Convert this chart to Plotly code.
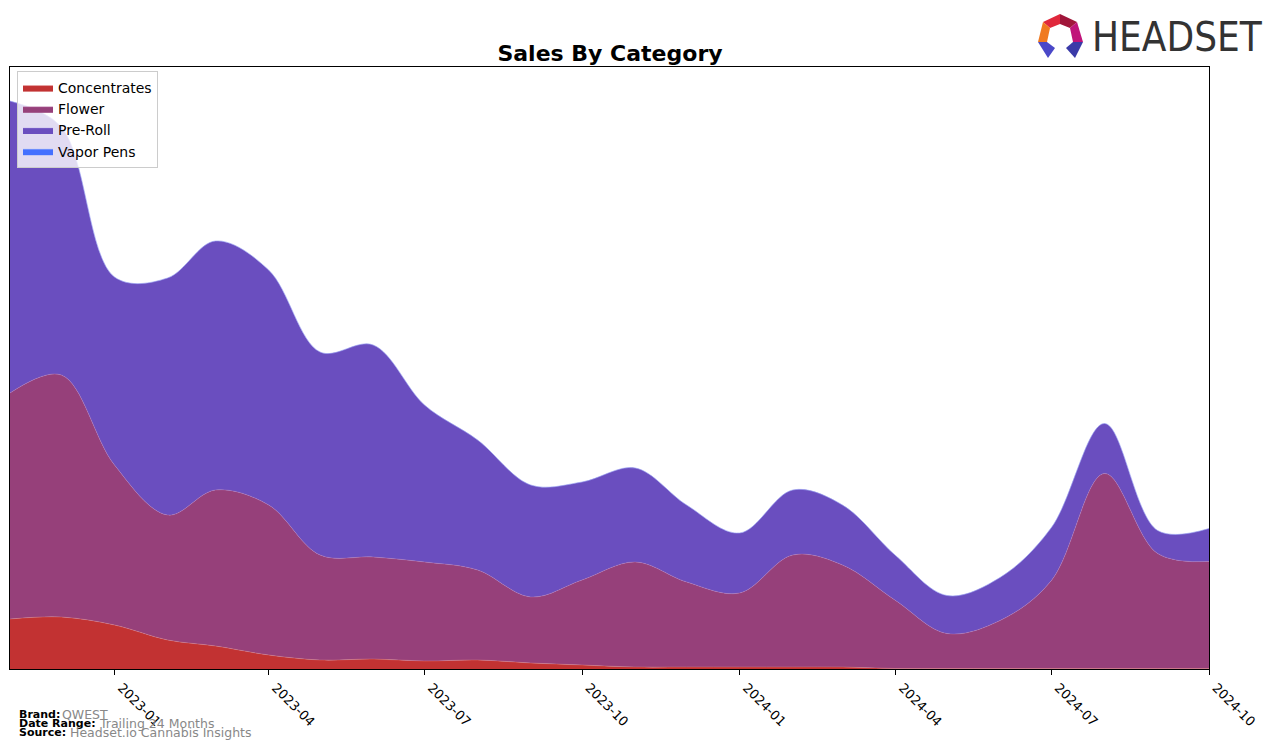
import plotly.graph_objs as go

# monthly sales by category (relative units)
months = ['2022-11-01', '2022-12-01', '2023-01-01', '2023-02-01', '2023-03-01', '2023-04-01',
          '2023-05-01', '2023-06-01', '2023-07-01', '2023-08-01', '2023-09-01', '2023-10-01',
          '2023-11-01', '2023-12-01', '2024-01-01', '2024-02-01', '2024-03-01', '2024-04-01',
          '2024-05-01', '2024-06-01', '2024-07-01', '2024-08-01', '2024-09-01', '2024-10-01']

concentrates = [50, 52, 44, 29, 23, 14, 9, 10, 8, 9, 6, 4,
                2, 2, 2, 2, 2, 0.5, 0.5, 0.5, 0.5, 0.5, 0.5, 0.5]
flower = [226, 242, 160, 125, 156, 150, 105, 102, 99, 90, 66, 85,
          105, 85, 74, 112, 102, 68, 35, 48, 88, 195, 115, 107]
pre_roll = [292, 248, 188, 237, 249, 235, 203, 212, 157, 130, 112, 98,
            94, 77, 60, 65, 60, 45, 38, 43, 53, 50, 23, 33]
vapor_pens = [0] * 24

categories = ['Concentrates', 'Flower', 'Pre-Roll', 'Vapor Pens']
colors = ['#c23232', '#96407a', '#6a4ebf', '#4470ff']
edges = ['rgba(230,140,140,0.6)', 'rgba(200,130,180,0.6)', 'rgba(170,150,230,0.6)', 'rgba(140,170,255,0.6)']
series = [concentrates, flower, pre_roll, vapor_pens]

fig = go.Figure()
for name, vals, col, edge in zip(categories, series, colors, edges):
    fig.add_trace(go.Scatter(x=months, y=vals, name=name, stackgroup='one',
                             mode='lines', line=dict(shape='spline', smoothing=1.0, width=0.6, color=edge),
                             fillcolor=col))

# page body has an 8px margin, so the figure is drawn 8px smaller and shifted
OFF = 8
W, H = 1276 - OFF, 748 - OFF
L, R, T, B = 10, 1209, 67, 669   # plot area in reference pixels


def px(x):
    return (x - L) / (R - L)


def py(y):
    return (B - y) / (B - T)


# footer text
footer = [('Brand:', 'QWEST', 714, 60), ('Date Range:', 'Trailing 24 Months', 723, 97),
          ('Source:', 'Headset.io Cannabis Insights', 732, 68)]
for label, value, ypos, xval in footer:
    fig.add_annotation(x=px(17), y=py(ypos), xref='paper', yref='paper', xanchor='left', yanchor='middle',
                       text='<b>' + label + '</b>', showarrow=False,
                       font=dict(family='DejaVu Sans', size=11, color='black'))
    fig.add_annotation(x=px(xval), y=py(ypos), xref='paper', yref='paper', xanchor='left', yanchor='middle',
                       text=value, showarrow=False,
                       font=dict(family='DejaVu Sans', size=12.5, color='#888888'))

# headset logo
fig.add_annotation(x=px(1090), y=py(37), xref='paper', yref='paper', xanchor='left', yanchor='middle',
                   text='HEADSET', showarrow=False,
                   font=dict(family='Liberation Sans Narrow, DejaVu Sans Condensed, sans-serif', size=40, color='#333333'))
logo_parts = [
    ([(1043, 22), (1060, 14), (1060, 24), (1050, 28)], '#e0283c'),
    ([(1060, 14), (1077, 22), (1070, 28), (1060, 24)], '#a0163a'),
    ([(1077, 22), (1083, 42), (1073, 42), (1070, 28)], '#c0147a'),
    ([(1043, 22), (1050, 28), (1047, 42), (1038, 42)], '#f07a20'),
    ([(1038, 42), (1047, 42), (1055, 48), (1048, 58)], '#4a48c8'),
    ([(1083, 42), (1073, 42), (1066, 48), (1075, 58)], '#3a3aa8'),
]
for pts, col in logo_parts:
    path = 'M ' + ' L '.join('%.5f,%.5f' % (px(a), py(b)) for a, b in pts) + ' Z'
    fig.add_shape(type='path', path=path, xref='paper', yref='paper', fillcolor=col, line=dict(width=0))

fig.update_layout(
    width=W, height=H,
    margin=dict(l=L - OFF, r=1276 - R, t=T - OFF, b=748 - B),
    paper_bgcolor='white', plot_bgcolor='white',
    font=dict(family='DejaVu Sans', size=13, color='black'),
    title=dict(text='<b>Sales By Category</b>', x=px(610), xref='paper', xanchor='center',
               y=1 - (53 - OFF) / H, yref='container', yanchor='middle',
               font=dict(family='DejaVu Sans', size=22, color='black')),
    showlegend=True,
    legend=dict(x=px(17), y=py(71), xanchor='left', yanchor='top', traceorder='normal',
                bgcolor='rgba(255,255,255,0.8)', bordercolor='#cccccc', borderwidth=1,
                font=dict(family='DejaVu Sans', size=14, color='black')),
    xaxis=dict(type='date', range=['2022-11-01', '2024-10-01'], tick0='2023-01-01', dtick='M3',
               tickformat='%Y-%m', tickangle=45, ticks='outside', ticklen=5, tickcolor='black',
               ticklabelshift=7,
               showgrid=False, zeroline=False, showline=True, linecolor='black', linewidth=1, mirror=True),
    yaxis=dict(range=[0, B - T], showticklabels=False, ticks='', showgrid=False, zeroline=False,
               showline=True, linecolor='black', linewidth=1, mirror=True),
)

fig.write_html('out.html')
